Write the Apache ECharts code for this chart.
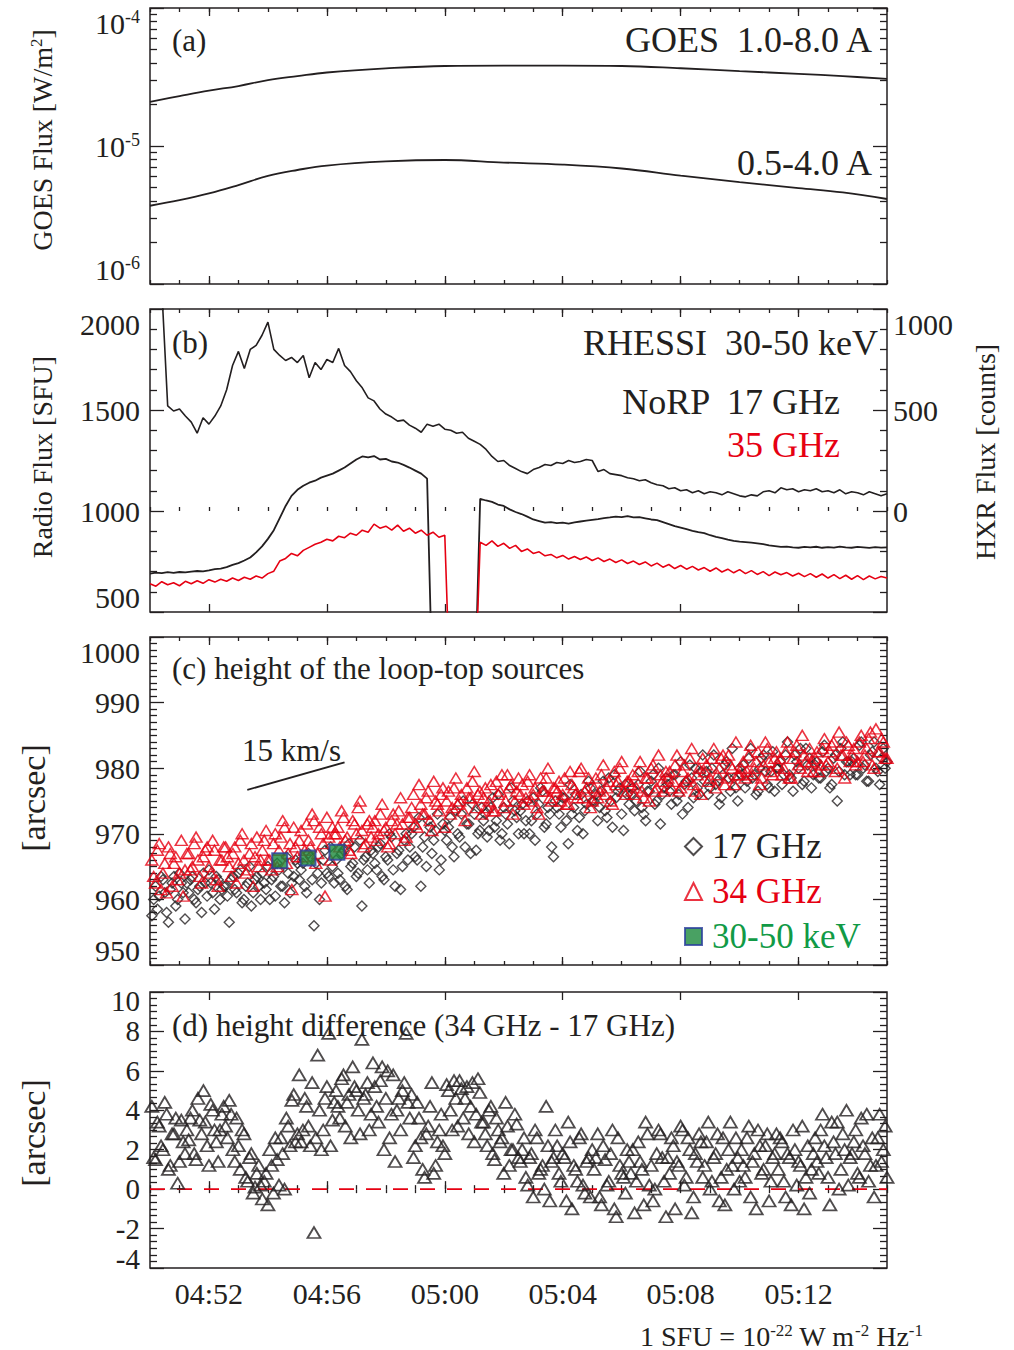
<!DOCTYPE html>
<html><head><meta charset="utf-8">
<script src="https://cdn.jsdelivr.net/npm/echarts@6/dist/echarts.min.js"></script>
<style>html,body{margin:0;padding:0;background:#fff}#chart{width:1014px;height:1350px}</style>
</head><body><div id="chart"></div>
<script>
// ---------------- DATA ----------------
// time axis: minutes after 04:00 UT
const TIME_MIN = 50, TIME_MAX = 75;
const timeLabelTicks = [52, 56, 60, 64, 68, 72];

// (a) GOES X-ray flux [W/m^2]
const goesTimes = [50,51,52,53,54,55,56,58,60,62,64,66,68,70,72,73.5,75];
const goesLong  = [2.09e-5,2.30e-5,2.52e-5,2.72e-5,3.00e-5,3.21e-5,3.41e-5,3.65e-5,3.80e-5,3.82e-5,3.82e-5,3.80e-5,3.66e-5,3.49e-5,3.33e-5,3.21e-5,3.06e-5];
const goesShort = [3.69e-6,4.05e-6,4.53e-6,5.21e-6,6.07e-6,6.70e-6,7.22e-6,7.73e-6,7.92e-6,7.59e-6,7.34e-6,6.87e-6,6.11e-6,5.48e-6,4.96e-6,4.61e-6,4.13e-6];

// (b) NoRP radio flux [SFU], sampled every 0.2 min from 04:50
const radioStart = 50, radioStep = 0.2;
const norp17 = [690,695,692,697,694,698,696,700,703,701,
 706,712,715,722,733,742,755,770,795,825,
 862,905,965,1025,1075,1105,1125,1140,1150,1165,
 1175,1185,1200,1215,1235,1255,1270,1265,1272,1255,
 1258,1245,1240,1228,1215,1200,1185,1160,0,0,
 0,0,0,0,0,0,1060,1052,1045,1032,
 1025,1008,995,985,972,958,950,942,945,940,
 942,938,944,948,952,956,960,965,968,972,
 970,975,968,970,964,958,955,945,935,925,
 918,910,902,895,890,880,872,866,858,852,
 848,846,843,840,836,830,826,822,824,820,
 818,822,820,823,818,821,819,824,820,818,
 822,820,817,821,819,820];
const norp35 = [640,628,650,635,645,630,652,640,655,642,
 660,648,662,652,668,656,672,662,678,668,
 690,702,752,765,790,778,805,820,835,845,
 860,852,875,868,890,880,905,895,935,915,
 925,905,930,900,915,890,905,880,895,870,
 880,0,0,0,0,0,845,830,852,825,
 840,815,830,800,812,790,798,778,785,768,
 780,762,775,760,772,755,768,750,762,745,
 758,740,752,735,748,728,742,722,735,715,
 730,712,726,708,720,702,718,698,712,694,
 710,690,705,686,700,680,698,684,695,678,
 692,675,690,672,688,668,685,665,682,662,
 680,660,678,664,676,668];
// RHESSI 30-50 keV [counts], every 0.2 min from 04:50.4
const rhessiStart = 50.4;
const rhessi = [1100,520,495,505,470,440,385,462,430,470,
 520,600,720,790,705,800,820,870,935,800,
 770,745,760,735,770,660,735,700,750,735,
 805,720,690,645,610,560,545,505,480,465,
 445,450,425,410,390,430,420,430,405,400,
 385,390,360,345,330,305,270,245,250,225,
 210,195,185,205,215,230,225,240,235,250,
 240,245,255,250,195,205,185,180,175,165,
 160,150,155,140,130,125,110,115,100,105,
 90,100,85,95,90,80,95,85,75,70,
 80,75,95,100,90,115,105,110,95,105,
 100,110,95,100,90,105,85,95,90,80,
 95,85,75,85];

// (c) loop-top source heights [arcsec]; two interleaved sample sets, each every 0.125 min
const heightStart = 50.0625, heightStartB = 50.125, heightStep = 0.125;
const height17 = [957.5,962,960.5,963,958,961.5,963.5,960,962.5,957,
 961,963.5,959.5,962,964,960.5,962.5,958.5,963,961.5,
 962,956.5,963.5,961,964.5,960,962.5,959,963,962,
 964,961.5,960,963.5,965.5,962,959.5,964,962.5,966,
 963,965.5,961,966.5,956,964,962.5,967.5,963.5,965,
 966,963,967.5,961.5,965,968,964,959,966.5,962.5,
 967,964.5,968.5,963,966,969.5,962,967.5,965,970,
 968,971,966,962,969.5,972,967,970.5,964.5,971.5,
 969,972.5,966.5,970,973,968,971.5,974.5,967.5,970.5,
 972,969.5,974,971,976,970,973,968.5,975,972.5,
 973.5,970,975,972,969,974.5,976.5,971.5,973,966.5,
 974,971,975.5,968.5,973,976,972.5,970,974.5,977,
 975,972,976.5,973.5,978.5,971,975.5,977,970.5,976,
 976,973.5,977.5,974,972,976.5,979,975,971.5,977,
 977.5,974.5,979,976,973,978,980.5,975.5,977,979.5,
 978,976,980,977.5,974.5,979,981,976.5,978.5,975,
 979,977,981.5,978.5,976,980,982,977.5,979.5,976.5,
 980,977.5,982,979,976.5,981,983,978,980.5,977,
 980.5,978.5,982.5,979.5,977,981.5,975,983,979,981,
 981,979,983.5,980,978,982,984,979.5,981.5,980];
const height17b = [960,958.5,963.5,961,956.5,962.5,959,964,961,962.5,
 963,960,961.5,958,962.5,964.5,961,963.5,960,962,
 960.5,963,961.5,964,959.5,962,965,961,963.5,960,
 962.5,965,963,960.5,964.5,962,966.5,961,963.5,965.5,
 964.5,962,967,963,965.5,960,966,964,968,962.5,
 964,967,962,968.5,965.5,963.5,969,966,964.5,967.5,
 965.5,968,963.5,966.5,970,964.5,967,961.5,969,966,
 970,966.5,972.5,968,965,971,969,973,966,970.5,
 971,968,973.5,969.5,975,971.5,967,973,970,974,
 973,970.5,975.5,972,969,974,971.5,977,973.5,970,
 974.5,972,970,975.5,973,977,971,974,968,975,
 973,975.5,972,977.5,974,970.5,976,973.5,978,975,
 976,974,978,972.5,975,979,976.5,973,977.5,974.5,
 977,975,979.5,973,976.5,978,974.5,980,976,978.5,
 976.5,979,975,981,977.5,974,978.5,980,976,982,
 979.5,977,982,978,975.5,980.5,978.5,983,977,980,
 980.5,978,983,979,976.5,981.5,979.5,977,982.5,980,
 981,979,984,978.5,982,980,977.5,983,981.5,979,
 981,978.5,983.5,980,977.5,982,979.5,984,981,979,
 981.5,979,984,980.5,978,982.5,980,977.5,983,981];
const height34 = [966,962.5,968.5,964,961,967,965.5,963,969,964.5,
 967,965,969.5,963.5,966.5,968,964,967.5,962,966,
 968,965,967,962.5,969,966,964.5,968.5,966.5,965,
 967.5,970.5,966,968.5,965,969.5,971,967,961.5,968,
 969,966.5,971.5,968,972,967,970,960.5,969.5,971,
 970,968,972.5,969.5,967,971.5,974,970.5,968.5,972,
 971,969,973,970.5,968,972,970,973.5,971.5,969.5,
 972.5,976,971,974.5,973,976.5,970.5,975,973.5,977,
 975,973,977,974.5,976,972,975.5,978,974,976.5,
 975.5,974,977.5,973.5,976,979,975,977,973,976.5,
 976,974.5,978,975,977,973,976.5,978.5,975.5,977,
 976.5,975,978.5,974.5,977.5,976,979.5,975.5,977,974,
 977,975.5,979,976,978,974.5,977.5,980,976.5,978,
 977.5,976,979.5,976.5,978.5,975,980.5,977,979,976.5,
 978.5,977,980.5,976.5,979.5,978,981.5,977.5,979,976,
 979.5,978,981.5,977,980,982,978.5,980.5,977.5,979,
 980,978.5,982,979,981,977.5,980.5,983,979.5,981.5,
 980.5,979,982.5,978.5,981.5,983.5,980,982,979.5,981,
 981.5,979.5,983,980.5,982.5,984,980,982,978.5,983.5,
 982,980.5,984,981,983,985.5,980,982.5,984.5,981.5];
const height34b = [963.5,967.5,961.5,965.5,968,962,966.5,964,960.5,967,
 964.5,968.5,966,962.5,967.5,965,969,963,966,968,
 966.5,963.5,968,965.5,970,964,967,962,969.5,966,
 969,966,964.5,970,967.5,972,965.5,968.5,971,966.5,
 970.5,967.5,969,973,965.5,971,968.5,972.5,966,970,
 971,973.5,969,967.5,972,970,975,968,971.5,969.5,
 972,970,974.5,971,968.5,973,971.5,975.5,969,972.5,
 974,971.5,977.5,973,975.5,972,978,974.5,976,971,
 976.5,974,978.5,975,973.5,977,975.5,979.5,976,973,
 977,975,973.5,978,976.5,974,979,977.5,975,978.5,
 977.5,975.5,979,976,974,978.5,976.5,980,975,977,
 978,976,974.5,979.5,977,975.5,980,976.5,978.5,975,
 978.5,976.5,980.5,977,975,979.5,978,981,976,978,
 979,977,981,975.5,978.5,980,976.5,982,978,979.5,
 979.5,978,982,977,980.5,978.5,983,976.5,980,981.5,
 980.5,978.5,983,979,981.5,977.5,982,980,984,979,
 981,979.5,983.5,980,982.5,978.5,984,981,979,982.5,
 981.5,980,984,978.5,982.5,980.5,985,981,983,979.5,
 982.5,980.5,984.5,981,983.5,979.5,985.5,982,984,981,
 983,981,985,982,984.5,980.5,986,982.5,984,981.5];
// RHESSI 30-50 keV loop-top source
const hxrTimes = [54.4, 55.36, 56.34];
const hxrHeight = [965.9, 966.3, 967.2];
// 15 km/s reference slope
const speedTimes = [53.3, 56.6];
const speedHeight = [976.7, 980.9];

// (d) height difference 34 GHz - 17 GHz [arcsec]; two interleaved sample sets
const heightDiff = [4.2,1.5,3.2,2.0,3.8,1.2,2.8,0.3,3.5,1.8,
 2.5,4.0,1.5,3.5,5.0,2.2,4.3,3.0,1.4,3.8,
 3.2,4.5,2.0,3.6,1.0,2.8,0.4,1.8,0.1,1.2,
 -0.5,0.8,2.0,-0.2,1.5,2.6,0.0,3.2,4.5,2.4,
 5.8,3.0,4.2,2.2,-2.2,6.8,2.0,4.6,7.9,3.5,
 5.0,3.6,5.8,4.4,2.6,5.2,4.0,7.6,4.8,3.0,
 6.4,4.2,5.5,2.0,6.0,3.8,1.4,4.6,5.0,7.9,
 3.6,1.6,4.4,2.6,0.6,3.2,5.4,1.2,3.0,2.2,
 5.3,4.0,5.5,3.2,5.1,4.6,2.8,5.4,3.8,4.9,
 3.4,2.2,4.2,1.5,3.0,2.6,4.4,1.2,2.0,3.3,
 1.4,2.6,0.2,1.8,3.0,0.8,1.2,4.2,-0.6,1.6,
 2.2,0.4,1.6,3.4,-1.0,1.0,2.6,0.2,1.4,-0.4,
 1.0,2.8,-0.8,1.5,0.4,3.0,-1.4,1.2,0.6,2.0,
 0.8,-1.2,2.4,1.0,3.4,0.2,-0.6,1.8,2.8,0.4,
 1.6,2.6,-1.0,1.2,3.0,0.6,2.0,-0.4,1.4,2.4,
 1.2,3.4,0.4,1.8,-0.6,2.6,1.0,3.4,0.0,1.6,
 2.0,0.6,3.2,1.4,-1.0,2.2,1.0,2.8,0.4,1.8,
 1.0,2.4,-0.4,1.6,3.0,0.2,1.2,-1.0,2.2,1.0,
 2.6,0.8,3.8,1.6,-0.8,2.4,3.4,1.0,2.0,0.2,
 1.8,3.0,0.6,2.2,3.8,1.2,-0.4,2.6,1.4,3.2];
const heightDiffB = [1.6,3.4,2.2,4.4,1.0,2.8,3.6,1.4,2.4,3.0,
 3.6,1.8,4.6,2.8,3.4,1.2,4.0,2.4,3.0,4.2,
 2.6,3.8,1.4,2.2,3.0,0.6,1.6,-0.2,0.8,0.2,
 0.4,-0.8,1.2,2.6,0.2,1.8,3.6,2.2,4.8,2.8,
 2.4,4.6,3.2,5.4,2.6,4.0,3.0,5.2,2.2,4.4,
 4.2,5.6,3.2,4.8,6.2,5.0,2.8,4.6,5.4,3.8,
 5.2,3.4,6.2,4.6,2.6,5.8,4.0,3.0,5.4,4.4,
 4.8,2.2,3.6,1.0,2.8,4.2,0.8,2.4,3.8,1.8,
 5.0,3.0,4.6,5.5,3.6,5.2,4.2,2.4,5.6,3.4,
 2.8,4.0,1.8,3.6,2.4,0.8,3.2,2.0,3.8,1.6,
 2.0,0.6,1.6,-0.4,2.6,1.0,0.0,2.2,1.4,3.0,
 0.8,1.8,-0.6,2.4,1.2,0.4,2.8,-0.2,1.6,2.0,
 1.6,-0.4,2.2,0.2,1.8,-1.0,2.6,0.8,-0.2,1.4,
 2.0,0.4,1.4,-0.8,2.8,1.2,0.0,3.0,1.6,-1.4,
 0.8,2.2,1.4,3.2,0.2,2.6,-1.2,1.8,2.8,0.6,
 2.4,0.0,1.6,2.8,0.6,-0.8,2.0,1.2,2.6,0.4,
 1.2,2.6,-0.4,1.8,3.0,0.8,2.2,-0.6,1.6,2.8,
 2.6,0.4,1.8,-0.8,2.0,1.4,3.2,0.6,-0.2,1.8,
 1.4,3.0,2.2,0.6,3.4,1.8,0.0,2.8,4.0,1.6,
 2.4,0.8,3.6,1.8,0.4,2.6,1.2,3.8,2.0,0.6];
const zeroLevel = 0;
const diffInnerLabels = [-2, 0, 2, 4, 6, 8];
const diffEndLabels = [-4, 10];

// ---------------- STYLE ----------------
const INK = '#231f20', RED = '#e60012', GREEN = '#119a46';
const FONT = '"Liberation Serif","Times New Roman",serif';
const tickStyle = {color: INK, width: 1.3};
const GRIDS = [{top: 8, height: 276}, {top: 309, height: 303}, {top: 637, height: 328}, {top: 992, height: 276}];

function pad(n){ return (n < 10 ? '0' : '') + n; }
function fmtTime(v){ const h = 4 + Math.floor(v / 60); const m = Math.round(v % 60); return pad(h) + ':' + pad(m); }
function series1D(start, step, arr){ return arr.map((v, i) => [start + i * step, v]); }
function zip(xs, ys){ return xs.map((x, i) => [x, ys[i]]); }

function xAxes(gi, withLabels){
  const base = {type: 'value', gridIndex: gi, min: TIME_MIN, max: TIME_MAX, axisLine: {show: false}, splitLine: {show: false}};
  return [
    Object.assign({}, base, {position: 'bottom', interval: 1,
      axisTick: {inside: true, length: 4, lineStyle: tickStyle},
      axisLabel: withLabels ? {customValues: timeLabelTicks, formatter: fmtTime, margin: 10, color: INK, fontFamily: FONT, fontSize: 30} : {show: false}}),
    Object.assign({}, base, {position: 'bottom', axisTick: {inside: true, length: 8, customValues: timeLabelTicks, lineStyle: tickStyle}, axisLabel: {show: false}}),
    Object.assign({}, base, {position: 'top', interval: 1, axisTick: {inside: true, length: 4, lineStyle: tickStyle}, axisLabel: {show: false}}),
    Object.assign({}, base, {position: 'top', axisTick: {inside: true, length: 8, customValues: timeLabelTicks, lineStyle: tickStyle}, axisLabel: {show: false}})
  ];
}
const labelBase = {color: INK, fontFamily: FONT, fontSize: 30, margin: 10, showMinLabel: true, showMaxLabel: true, hideOverlap: false,
  verticalAlignMaxLabel: 'top', verticalAlignMinLabel: 'bottom', formatter: v => String(v)};
function yLin(gi, pos, min, max, interval, minorSplit, label){
  return {type: 'value', gridIndex: gi, position: pos, min: min, max: max, interval: interval,
    axisLine: {show: false}, splitLine: {show: false},
    axisTick: {inside: true, length: 14, lineStyle: tickStyle},
    minorTick: {show: true, splitNumber: minorSplit, length: 7, lineStyle: tickStyle},
    axisLabel: label || {show: false}};
}
const goesMinorTicks = [];
[-6, -5].forEach(d => { for (let k = 2; k <= 9; k++) goesMinorTicks.push(d + Math.log10(k)); });
function yLog(pos, label){
  return {type: 'log', logBase: 10, gridIndex: 0, position: pos, min: 1e-6, max: 1e-4,
    axisLine: {show: false}, splitLine: {show: false},
    axisTick: {inside: true, length: 14, lineStyle: tickStyle},
    axisLabel: label || {show: false}};
}
function yLogMinor(pos){
  return {type: 'value', gridIndex: 0, position: pos, min: -6, max: -4,
    axisLine: {show: false}, splitLine: {show: false},
    axisTick: {inside: true, length: 7, customValues: goesMinorTicks, lineStyle: tickStyle},
    axisLabel: {show: false}};
}

const sup = {fontSize: 18, fontFamily: FONT, color: INK, verticalAlign: 'top', padding: [0, 0, 10, 0]};
const emptyFill = 'rgba(255,255,255,0)';
const diamondStyle = {symbol: 'diamond', symbolSize: 10, itemStyle: {color: emptyFill, borderColor: INK, borderWidth: 1.4}};
const triRedStyle = {symbol: 'triangle', symbolSize: [12, 10], itemStyle: {color: emptyFill, borderColor: RED, borderWidth: 1.5}};
const triInkStyle = {symbol: 'triangle', symbolSize: [13, 11], z: 3, itemStyle: {color: emptyFill, borderColor: INK, borderWidth: 1.8}};

const option = {
  animation: false,
  backgroundColor: '#fff',
  grid: GRIDS.map(g => ({left: 150, right: 127, top: g.top, height: g.height, show: true, borderColor: INK, borderWidth: 1.5, backgroundColor: 'rgba(0,0,0,0)'})),
  xAxis: [].concat(xAxes(0, false), xAxes(1, false), xAxes(2, false), xAxes(3, true)),
  yAxis: [
    yLog('left', Object.assign({}, labelBase, {formatter: v => '10{s|' + Math.round(Math.log10(v)) + '}', rich: {s: sup}})),
    yLog('right'),
    yLogMinor('left'),
    yLogMinor('right'),
    yLin(1, 'left', 500, 2000, 500, 5, Object.assign({}, labelBase)),
    yLin(1, 'right', -500, 1000, 500, 5, Object.assign({}, labelBase, {margin: 6, formatter: v => v < 0 ? '' : String(v)})),
    yLin(2, 'left', 950, 1000, 10, 10, Object.assign({}, labelBase)),
    yLin(2, 'right', 950, 1000, 10, 10),
    yLin(3, 'left', -4, 10, 2, 6, Object.assign({}, labelBase, {fontSize: 29, customValues: diffInnerLabels, verticalAlignMaxLabel: null, verticalAlignMinLabel: null})),
    yLin(3, 'right', -4, 10, 2, 6),
    {type: 'value', gridIndex: 3, position: 'left', min: -4, max: 10, interval: 2,
      axisLine: {show: false}, splitLine: {show: false}, axisTick: {show: false},
      axisLabel: Object.assign({}, labelBase, {fontSize: 29, lineHeight: 18, customValues: diffEndLabels})}
  ],
  legend: {
    orient: 'vertical', left: 679, top: 824, itemGap: 10, itemWidth: 17, itemHeight: 17,
    selectedMode: false,
    data: [
      {name: '17 GHz', textStyle: {color: INK}},
      {name: '34 GHz', textStyle: {color: RED}},
      {name: '30-50 keV', textStyle: {color: GREEN}}
    ],
    textStyle: {fontFamily: FONT, fontSize: 35, padding: [0, 0, 0, 5]}
  },
  series: [
    {name: 'GOES 1.0-8.0 A', type: 'line', xAxisIndex: 0, yAxisIndex: 0, data: zip(goesTimes, goesLong), smooth: 0.4, symbol: 'none', lineStyle: {color: INK, width: 1.8}},
    {name: 'GOES 0.5-4.0 A', type: 'line', xAxisIndex: 0, yAxisIndex: 0, data: zip(goesTimes, goesShort), smooth: 0.4, symbol: 'none', lineStyle: {color: INK, width: 1.8}},
    {name: 'RHESSI 30-50 keV', type: 'line', xAxisIndex: 4, yAxisIndex: 5, data: series1D(rhessiStart, radioStep, rhessi), symbol: 'none', lineStyle: {color: INK, width: 1.6}},
    {name: 'NoRP 17 GHz', type: 'line', xAxisIndex: 4, yAxisIndex: 4, data: series1D(radioStart, radioStep, norp17), symbol: 'none', lineStyle: {color: INK, width: 1.8}},
    {name: 'NoRP 35 GHz', type: 'line', xAxisIndex: 4, yAxisIndex: 4, data: series1D(radioStart, radioStep, norp35), symbol: 'none', lineStyle: {color: RED, width: 1.6}},
    Object.assign({name: '17 GHz', type: 'scatter', xAxisIndex: 8, yAxisIndex: 6, data: series1D(heightStart, heightStep, height17).concat(series1D(heightStartB, heightStep, height17b))}, diamondStyle),
    Object.assign({name: '34 GHz', type: 'scatter', xAxisIndex: 8, yAxisIndex: 6, data: series1D(heightStart, heightStep, height34).concat(series1D(heightStartB, heightStep, height34b))}, triRedStyle),
    {name: '30-50 keV', type: 'scatter', xAxisIndex: 8, yAxisIndex: 6, data: zip(hxrTimes, hxrHeight), symbol: 'rect', symbolSize: 15, z: 5, itemStyle: {color: '#1b8a3c', borderColor: '#2b3f9e', borderWidth: 2}},
    {name: 'speed', type: 'line', xAxisIndex: 8, yAxisIndex: 6, data: zip(speedTimes, speedHeight), symbol: 'none', lineStyle: {color: INK, width: 1.8}},
    {name: 'zero', type: 'line', xAxisIndex: 12, yAxisIndex: 8, data: [[TIME_MIN, zeroLevel], [TIME_MAX, zeroLevel]], symbol: 'none', z: 1, lineStyle: {color: RED, width: 1.8, type: [15, 12]}},
    Object.assign({name: 'diff', type: 'scatter', xAxisIndex: 12, yAxisIndex: 8, data: series1D(heightStart, heightStep, heightDiff).concat(series1D(heightStartB, heightStep, heightDiffB))}, triInkStyle)
  ],
  graphic: [
    {type: 'text', x: 172, y: 40, style: {text: '(a)', fontFamily: FONT, fontSize: 31, fill: INK, align: 'left', verticalAlign: 'middle'}},
    {type: 'text', x: 872, y: 40, style: {text: 'GOES  1.0-8.0 A', fontFamily: FONT, fontSize: 36, fill: INK, align: 'right', verticalAlign: 'middle'}},
    {type: 'text', x: 872, y: 163, style: {text: '0.5-4.0 A', fontFamily: FONT, fontSize: 36, fill: INK, align: 'right', verticalAlign: 'middle'}},
    {type: 'text', x: 172, y: 342, style: {text: '(b)', fontFamily: FONT, fontSize: 31, fill: INK, align: 'left', verticalAlign: 'middle'}},
    {type: 'text', x: 878, y: 343, style: {text: 'RHESSI  30-50 keV', fontFamily: FONT, fontSize: 36, fill: INK, align: 'right', verticalAlign: 'middle'}},
    {type: 'text', x: 840, y: 402, style: {text: 'NoRP  17 GHz', fontFamily: FONT, fontSize: 36, fill: INK, align: 'right', verticalAlign: 'middle'}},
    {type: 'text', x: 840, y: 445, style: {text: '35 GHz', fontFamily: FONT, fontSize: 36, fill: RED, align: 'right', verticalAlign: 'middle'}},
    {type: 'text', x: 172, y: 668, style: {text: '(c) height of the loop-top sources', fontFamily: FONT, fontSize: 31, fill: INK, align: 'left', verticalAlign: 'middle'}},
    {type: 'text', x: 242, y: 750, style: {text: '15 km/s', fontFamily: FONT, fontSize: 31, fill: INK, align: 'left', verticalAlign: 'middle'}},
    {type: 'text', x: 172, y: 1025, style: {text: '(d) height difference (34 GHz - 17 GHz)', fontFamily: FONT, fontSize: 31, fill: INK, align: 'left', verticalAlign: 'middle'}},
    {type: 'text', x: 42, y: 140, rotation: Math.PI / 2, style: {text: 'GOES Flux [W/m{s|2}]', fontFamily: FONT, fontSize: 28, fill: INK, align: 'center', verticalAlign: 'middle', rich: {s: {fontSize: 17, fontFamily: FONT, fill: INK, verticalAlign: 'top', padding: [0, 0, 10, 0]}}}},
    {type: 'text', x: 42, y: 457, rotation: Math.PI / 2, style: {text: 'Radio Flux [SFU]', fontFamily: FONT, fontSize: 28, fill: INK, align: 'center', verticalAlign: 'middle'}},
    {type: 'text', x: 33, y: 798, rotation: Math.PI / 2, style: {text: '[arcsec]', fontFamily: FONT, fontSize: 34, fill: INK, align: 'center', verticalAlign: 'middle'}},
    {type: 'text', x: 33, y: 1133, rotation: Math.PI / 2, style: {text: '[arcsec]', fontFamily: FONT, fontSize: 34, fill: INK, align: 'center', verticalAlign: 'middle'}},
    {type: 'text', x: 985, y: 452, rotation: Math.PI / 2, style: {text: 'HXR Flux [counts]', fontFamily: FONT, fontSize: 28, fill: INK, align: 'center', verticalAlign: 'middle'}},
    {type: 'text', x: 640, y: 1336, style: {text: '1 SFU = 10{s|-22} W m{s|-2} Hz{s|-1}', fontFamily: FONT, fontSize: 28, fill: INK, align: 'left', verticalAlign: 'middle', rich: {s: {fontSize: 17, fontFamily: FONT, fill: INK, verticalAlign: 'top', padding: [0, 0, 10, 0]}}}}
  ]
};
const chart = echarts.init(document.getElementById('chart'), null, {renderer: 'svg'});
chart.setOption(option);
</script>
</body></html>
